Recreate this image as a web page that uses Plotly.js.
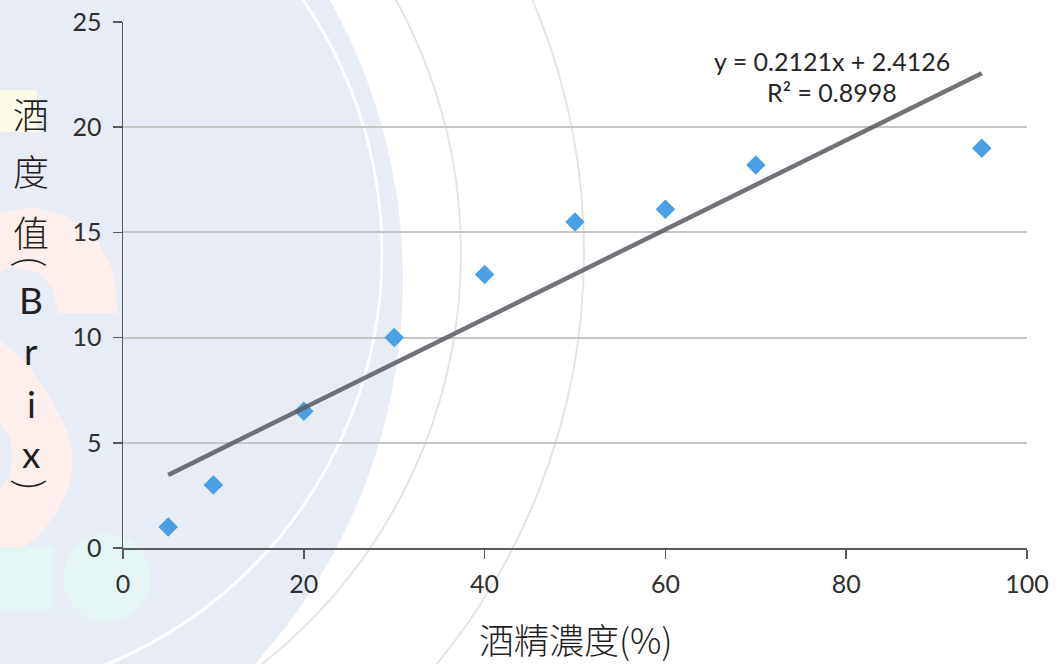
<!DOCTYPE html>
<html>
<head>
<meta charset="utf-8">
<script src="https://cdn.plot.ly/plotly-3.0.1.min.js"></script>
<style>
html,body{margin:0;padding:0;background:#ffffff;}
#chart{width:1063px;height:664px;}
</style>
</head>
<body>
<div id="chart"></div>
<script>
// ---- data ----
var alcoholPct = [5, 10, 20, 30, 40, 50, 60, 70, 95];
var brixValues = [1.0, 3.0, 6.5, 10.0, 13.0, 15.5, 16.1, 18.2, 19.0];
var trendSlope = 0.2121;
var trendIntercept = 2.4126;
var trendR2 = 0.8998;
var xTicks = [0, 20, 40, 60, 80, 100];
var yTicks = [0, 5, 10, 15, 20, 25];
var xTitle = '酒精濃度(%)';
var yTitleChars = ['酒', '度', '值', '(', 'B', 'r', 'i', 'x', ')'];

// ---- layout helpers (pixel -> paper) ----
var W = 1063, H = 664;
var M = {l: 123, r: 36, t: 22, b: 116};
var PW = W - M.l - M.r, PH = H - M.t - M.b;
function px(x) { return (x - M.l) / PW; }
function py(y) { return (H - M.b - y) / PH; }

var latin = 'Lato, "Noto Sans CJK TC", sans-serif';
var cjk = '"Noto Sans CJK TC", "Noto Sans CJK SC", sans-serif';

var xMin = Math.min.apply(null, alcoholPct);
var xMax = Math.max.apply(null, alcoholPct);
var trendX = [xMin, xMax];
var trendY = trendX.map(function (v) { return trendSlope * v + trendIntercept; });

var traces = [
  {
    x: alcoholPct, y: brixValues, type: 'scatter', mode: 'markers',
    marker: {symbol: 'diamond', size: 15, color: '#4aa0e2'},
    hoverinfo: 'x+y', showlegend: false
  },
  {
    x: trendX, y: trendY, type: 'scatter', mode: 'lines',
    line: {color: 'rgba(88,90,96,0.85)', width: 4.5},
    hoverinfo: 'skip', showlegend: false
  }
];

// y title: one annotation per stacked character (pixel centres);
// the brackets are turned a quarter turn, as in vertical writing
var yCharPos = [113, 170, 231, 262, 299, 350, 403, 453, 484];
var yCharSize = [36, 36, 36, 40, 37, 37, 37, 37, 40];
var annotations = yTitleChars.map(function (c, i) {
  var isBracket = (c === '(' || c === ')');
  var isLatin = /[A-Za-z()]/.test(c);
  return {
    text: c, xref: 'paper', yref: 'paper', x: px(31), y: py(yCharPos[i]),
    xanchor: 'center', yanchor: 'middle', showarrow: false,
    textangle: isBracket ? 90 : 0,
    font: {family: isLatin ? latin : cjk, size: yCharSize[i], color: '#1f1f1f',
           weight: isBracket ? 300 : (isLatin ? 400 : 300)}
  };
});
annotations.push({
  text: xTitle, xref: 'paper', yref: 'paper', x: px(575), y: py(638),
  xanchor: 'center', yanchor: 'middle', showarrow: false,
  font: {family: cjk, size: 35, color: '#1f1f1f', weight: 300}
});
annotations.push({
  text: 'y = ' + trendSlope.toFixed(4) + 'x + ' + trendIntercept.toFixed(4),
  xref: 'paper', yref: 'paper', x: px(832), y: py(61),
  xanchor: 'center', yanchor: 'middle', showarrow: false,
  font: {family: latin, size: 25, color: '#262626'}
});
annotations.push({
  text: 'R² = ' + trendR2.toFixed(4),
  xref: 'paper', yref: 'paper', x: px(832), y: py(92),
  xanchor: 'center', yanchor: 'middle', showarrow: false,
  font: {family: latin, size: 25, color: '#262626'}
});

// faint background watermark shapes (pixel geometry)
function pathFrom(pts) {
  return 'M' + pts.map(function (p) { return px(p[0]) + ',' + py(p[1]); }).join(' L') + ' Z';
}
function circ(cx, cy, r, fill, lineColor, lineWidth) {
  return {type: 'circle', xref: 'paper', yref: 'paper', layer: 'below',
    x0: px(cx - r), x1: px(cx + r), y0: py(cy + r), y1: py(cy - r),
    fillcolor: fill, line: {color: lineColor || 'rgba(0,0,0,0)', width: lineWidth || 0}};
}
var pink = '#fcefec';
var shapes = [
  circ(-169, 280, 572, '#e8ecf5'),
  circ(-63, 253, 445, 'rgba(0,0,0,0)', '#ffffff', 3),
  circ(-63, 253, 524, 'rgba(0,0,0,0)', '#e4e4e4', 2),
  circ(-63, 253, 647, 'rgba(0,0,0,0)', '#e4e4e4', 2),
  {type: 'path', xref: 'paper', yref: 'paper', layer: 'below',
   path: pathFrom([[0,213],[33,207],[67,217],[97,240],[113,270],[118,313],[58,313],[53,290],[40,273],[13,267],[0,272]]),
   fillcolor: pink, line: {width: 0}},
  {type: 'path', xref: 'paper', yref: 'paper', layer: 'below',
   path: pathFrom([[0,340],[27,363],[50,397],[67,430],[73,457],[70,485],[57,512],[40,535],[20,550],[0,557],[0,490],[10,477],[13,457],[10,437],[0,423]]),
   fillcolor: pink, line: {width: 0}},
  circ(107, 578, 44, '#e5f5f3'),
  {type: 'rect', xref: 'paper', yref: 'paper', layer: 'below',
   x0: px(0), x1: px(53), y0: py(610), y1: py(547),
   fillcolor: '#e5f5f3', line: {width: 0}},
  {type: 'rect', xref: 'paper', yref: 'paper', layer: 'below',
   x0: px(0), x1: px(37), y0: py(132), y1: py(90),
   fillcolor: '#fcfbe7', line: {width: 0}}
];

var layout = {
  width: W, height: H,
  margin: M,
  paper_bgcolor: '#ffffff', plot_bgcolor: 'rgba(0,0,0,0)',
  showlegend: false,
  xaxis: {
    range: [0, 100], tickvals: xTicks, ticktext: xTicks.map(String),
    showgrid: false, zeroline: false,
    showline: true, linecolor: '#5a5a5a', linewidth: 1.5,
    ticks: 'outside', ticklen: 9, tickwidth: 1.5, tickcolor: '#5a5a5a',
    ticklabelstandoff: 4,
    tickfont: {family: latin, size: 25, color: '#2e2e2e'}
  },
  yaxis: {
    range: [0, 25], tickvals: yTicks, ticktext: yTicks.map(String),
    showgrid: true, gridcolor: '#c6c6c6', gridwidth: 2, zeroline: false,
    showline: true, linecolor: '#5a5a5a', linewidth: 1.5,
    ticks: 'outside', ticklen: 9, tickwidth: 1.5, tickcolor: '#5a5a5a',
    ticklabelstandoff: 6,
    tickfont: {family: latin, size: 25, color: '#2e2e2e'}
  },
  annotations: annotations,
  shapes: shapes
};

Plotly.newPlot('chart', traces, layout, {displayModeBar: false, staticPlot: true});
</script>
</body>
</html>
